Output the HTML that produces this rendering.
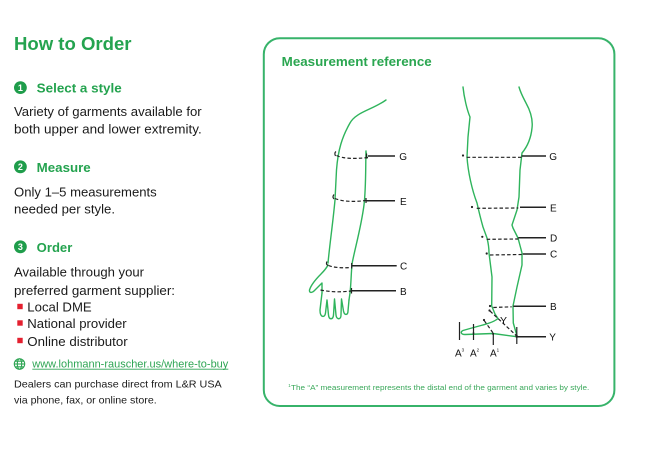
<!DOCTYPE html>
<html><head><meta charset="utf-8"><style>
html,body{margin:0;padding:0;background:#fff;}
svg{display:block;}
text{font-family:"Liberation Sans",Arial,sans-serif;}
</style></head><body>
<svg width="671" height="452" viewBox="0 0 671 452" xmlns="http://www.w3.org/2000/svg">
<rect width="671" height="452" fill="#fff"/>
<!-- Left column -->
<g fill="#1a1a1a">
<text x="14" y="50" font-size="18" font-weight="bold" fill="#24a34f" textLength="117.5" lengthAdjust="spacingAndGlyphs">How to Order</text>

<circle cx="20.4" cy="87.6" r="6.4" fill="#1f9d4b"/>
<text x="20.4" y="91" font-size="9" font-weight="bold" fill="#fff" text-anchor="middle">1</text>
<text x="36.7" y="92.5" font-size="13" font-weight="bold" fill="#24a34f" textLength="85" lengthAdjust="spacingAndGlyphs">Select a style</text>
<text x="14" y="116" font-size="13" textLength="187.7" lengthAdjust="spacingAndGlyphs">Variety of garments available for</text>
<text x="14" y="133.5" font-size="13" textLength="187.7" lengthAdjust="spacingAndGlyphs">both upper and lower extremity.</text>

<circle cx="20.4" cy="166.8" r="6.4" fill="#1f9d4b"/>
<text x="20.4" y="170.2" font-size="9" font-weight="bold" fill="#fff" text-anchor="middle">2</text>
<text x="36.7" y="172" font-size="13" font-weight="bold" fill="#24a34f" textLength="54" lengthAdjust="spacingAndGlyphs">Measure</text>
<text x="14" y="196.7" font-size="13" textLength="142.7" lengthAdjust="spacingAndGlyphs">Only 1–5 measurements</text>
<text x="14" y="213.5" font-size="13" textLength="101" lengthAdjust="spacingAndGlyphs">needed per style.</text>

<circle cx="20.4" cy="246.8" r="6.4" fill="#1f9d4b"/>
<text x="20.4" y="250.2" font-size="9" font-weight="bold" fill="#fff" text-anchor="middle">3</text>
<text x="36.7" y="252" font-size="13" font-weight="bold" fill="#24a34f" textLength="35.6" lengthAdjust="spacingAndGlyphs">Order</text>
<text x="14" y="276.7" font-size="13" textLength="130" lengthAdjust="spacingAndGlyphs">Available through your</text>
<text x="14" y="295" font-size="13" textLength="161" lengthAdjust="spacingAndGlyphs">preferred garment supplier:</text>

<rect x="17.3" y="303.8" width="5.4" height="5.4" fill="#e4202f"/>
<text x="27.3" y="311.7" font-size="13" textLength="64.4" lengthAdjust="spacingAndGlyphs">Local DME</text>
<rect x="17.3" y="320.3" width="5.4" height="5.4" fill="#e4202f"/>
<text x="27.3" y="328.2" font-size="13" textLength="99.4" lengthAdjust="spacingAndGlyphs">National provider</text>
<rect x="17.3" y="337.8" width="5.4" height="5.4" fill="#e4202f"/>
<text x="27.3" y="346" font-size="13" textLength="100.4" lengthAdjust="spacingAndGlyphs">Online distributor</text>

<!-- globe -->
<g fill="none" stroke="#2ea554" stroke-width="1.1">
<circle cx="19.5" cy="364" r="5.2"/>
<ellipse cx="19.5" cy="364" rx="2.2" ry="5.2"/>
<line x1="14.3" y1="364" x2="24.7" y2="364"/>
<line x1="15.2" y1="361.2" x2="23.8" y2="361.2"/>
<line x1="15.2" y1="366.8" x2="23.8" y2="366.8"/>
</g>
<text x="32.3" y="367.5" font-size="11" fill="#2ea554" textLength="196" lengthAdjust="spacingAndGlyphs">www.lohmann-rauscher.us/where-to-buy</text>
<line x1="32.3" y1="369.2" x2="228.3" y2="369.2" stroke="#2ea554" stroke-width="0.8"/>

<text x="14" y="387.7" font-size="10.5" textLength="207.7" lengthAdjust="spacingAndGlyphs">Dealers can purchase direct from L&amp;R USA</text>
<text x="14" y="403.5" font-size="10.5" textLength="142.7" lengthAdjust="spacingAndGlyphs">via phone, fax, or online store.</text>
</g>

<!-- Right box -->
<rect x="263.8" y="38.2" width="350.6" height="367.8" rx="16" ry="16" fill="none" stroke="#37b36a" stroke-width="2"/>
<text x="281.7" y="66" font-size="13" font-weight="bold" fill="#2aa650" textLength="150" lengthAdjust="spacingAndGlyphs">Measurement reference</text>

<!-- Arm -->
<g fill="none" stroke="#2fb45c" stroke-width="1.4" stroke-linecap="round" stroke-linejoin="round">
<path d="M386,100 C372,110 356,112 350,123 C342,137 338,150 336.5,170 L335,200 C333,222 330,242 328,263"/>
<path d="M366,151 C365.5,170 366,188 364,205 C361,228 355,248 352,264 C351,276 351,285 350,293 L349,300"/>
<path d="M328,265 C326,269 324,271 321,274 C316,279 311,285 309.5,290 C309,293 312,293 314,291 C317,288 319,286 322,283 L322,293"/>
<path d="M322,293 L320,310 C320,318 325,318 325.5,313 L327,300 L328.5,315 C329,320 333,320 333.5,315 L334.5,299 L336,315 C336.5,320 341,320 341,315 L341.5,299 L343.5,311 C344.5,316 348,315 348,311 L349,300"/>
<path d="M366,152 L367,158"/>
</g>
<!-- Arm bands -->
<g fill="none" stroke="#222" stroke-width="1.2">
<path d="M336.5,155.5 Q346,160 368,157.5" stroke-dasharray="3.5,2.2"/>
<path d="M336,151.5 Q334,153 335.5,156"/>
<path d="M335,198.5 Q346,203 366,200.5" stroke-dasharray="3.5,2.2"/>
<path d="M334,194.5 Q332,197 334,199"/>
<path d="M328.5,265.5 Q336,268.5 351,267.5" stroke-dasharray="3.5,2.2"/>
<path d="M327,261.5 Q325.5,264 328,265.5"/>
<path d="M320.5,290 Q335,293 351,291" stroke-dasharray="3.5,2.2"/>
</g>
<g stroke="#222" stroke-width="1.5">
<line x1="368" y1="156" x2="395" y2="156"/>
<line x1="366.5" y1="153.5" x2="366.5" y2="158.5" stroke-width="1.2"/>
<line x1="366" y1="200.7" x2="395" y2="200.7"/>
<line x1="366" y1="198" x2="366" y2="203" stroke-width="1.2"/>
<line x1="351.7" y1="265.7" x2="396.7" y2="265.7"/>
<line x1="351.7" y1="263" x2="351.7" y2="268.5" stroke-width="1.2"/>
<line x1="351.7" y1="290.7" x2="396" y2="290.7"/>
<line x1="351.5" y1="288" x2="351.5" y2="293.5" stroke-width="1.2"/>
</g>
<g font-size="10" fill="#111">
<text x="399.3" y="160">G</text>
<text x="400" y="205">E</text>
<text x="400" y="269.5">C</text>
<text x="400" y="295">B</text>
</g>

<!-- Leg -->
<g fill="none" stroke="#2fb45c" stroke-width="1.4" stroke-linecap="round" stroke-linejoin="round">
<path d="M463,87 C464,97 467,110 470,117 L468,137 L467,157 C468,172 472,190 477,203 C479,212 481,220 483,227 L487,238 C488.5,244 489,249 489,253 L492,277 L491.7,306 L495,314 L498,318.5 C494,322 487,324 481,325.5 L470,328.5 L463,330.5 C460,332 461,334.5 465,334.5 L493,333.5 L516.7,336.7"/>
<path d="M519,87 C521,94 524,99 526,103 C531,112 533,120 532,128 C531,138 527,147 522,153 L520,170 L519,197 L517,210 L512,225 L513,228 L518,238 L522,253 L522,265 L517,287 L513,306 L513.3,323 L516.7,335"/>
</g>
<!-- Leg bands -->
<g fill="none" stroke="#222" stroke-width="1.2" stroke-dasharray="3.5,2.2">
<line x1="466.7" y1="157.3" x2="521.7" y2="157.3"/>
<line x1="476.7" y1="208.3" x2="518.3" y2="208"/>
<line x1="486.7" y1="239.3" x2="518.3" y2="239"/>
<line x1="490" y1="255" x2="521.7" y2="254.5"/>
<line x1="493.3" y1="307.5" x2="511.7" y2="306.8"/>
<line x1="490" y1="311" x2="516.7" y2="336"/>
<line x1="484.3" y1="320.7" x2="493.3" y2="333.3"/>
</g>
<g fill="#222">
<circle cx="463" cy="155.5" r="1.1"/>
<circle cx="472" cy="207" r="1.1"/>
<circle cx="482.3" cy="236.8" r="1.1"/>
<circle cx="486.7" cy="253.5" r="1.1"/>
<circle cx="490" cy="306" r="1.1"/>
<circle cx="489.5" cy="310.5" r="1.1"/>
<circle cx="484" cy="320" r="1.1"/>
<circle cx="516.8" cy="336.5" r="1.3"/>
<circle cx="473.5" cy="333" r="0.9"/>
<circle cx="493" cy="334" r="0.9"/>
</g>
<g stroke="#222" stroke-width="1.5">
<line x1="521.7" y1="156" x2="546" y2="156"/>
<line x1="520" y1="207.3" x2="546" y2="207.3"/>
<line x1="518.3" y1="237.7" x2="546" y2="237.7"/>
<line x1="522.7" y1="254" x2="546" y2="254"/>
<line x1="513.3" y1="306.3" x2="546" y2="306.3"/>
<line x1="517.3" y1="336.7" x2="546" y2="336.7"/>
</g>
<g stroke="#222" stroke-width="1.2">
<line x1="459.5" y1="322" x2="459.5" y2="340"/>
<line x1="473.5" y1="324" x2="473.5" y2="340"/>
<line x1="493.3" y1="333" x2="493.3" y2="345"/>
<line x1="516.8" y1="327" x2="516.8" y2="344"/>
</g>
<g font-size="10" fill="#111">
<text x="549.3" y="160">G</text>
<text x="550" y="211.5">E</text>
<text x="550" y="241.5">D</text>
<text x="550" y="257.7">C</text>
<text x="550" y="310">B</text>
<text x="549.3" y="340.7">Y</text>
<text x="500" y="324.2" font-size="10.5">Y</text>
<text x="455" y="356.7">A<tspan font-size="4.5" dy="-5">3</tspan></text>
<text x="470" y="356.7">A<tspan font-size="4.5" dy="-5">2</tspan></text>
<text x="490" y="356.7">A<tspan font-size="4.5" dy="-5">1</tspan></text>
</g>

<!-- footnote -->
<text x="288.3" y="387" font-size="4.5" fill="#3aa85a">1</text>
<text x="291" y="390" font-size="7" fill="#3aa85a" textLength="298.3" lengthAdjust="spacingAndGlyphs">The “A” measurement represents the distal end of the garment and varies by style.</text>
</svg>
</body></html>
